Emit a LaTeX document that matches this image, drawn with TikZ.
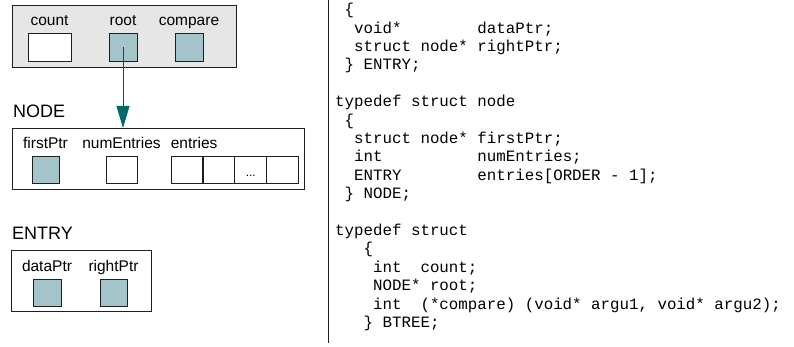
\documentclass[tikz,border=0pt]{standalone}
\usepackage{fontspec}
\setmainfont{Liberation Sans}
\newfontfamily\codefont{Liberation Mono}
\usepackage{tikz}
\usetikzlibrary{arrows.meta,positioning}
\definecolor{ink}{HTML}{1E1E1E}
\definecolor{panelgray}{HTML}{E6E6E6}
\definecolor{ptrteal}{HTML}{A3C4C8}
\definecolor{tipteal}{HTML}{006A6A}
\definecolor{wire}{HTML}{3A3A3A}
\tikzset{
  >=Latex,
  every node/.style={text=black},
  panel/.style={draw=ink,line width=0.9pt,fill=panelgray,anchor=north west,inner sep=0pt},
  frame/.style={panel,fill=white},
  cell/.style={draw=ink,line width=0.9pt,fill=white,minimum width=28pt,minimum height=27pt,inner sep=0pt},
  ptrcell/.style={cell,fill=ptrteal},
  field/.style={font=\fontsize{15.5}{18}\selectfont,inner sep=0pt,text depth=3.3pt},
  title/.style={font=\fontsize{18}{21}\selectfont,inner sep=0pt,text depth=0pt},
  dots/.style={font=\fontsize{12}{14}\selectfont,inner sep=0pt},
  code/.style={font=\codefont\fontsize{15.8}{18.4}\selectfont,align=left,anchor=north west,inner sep=0pt},
  ptrarrow/.style={-{Triangle[length=22pt,width=13pt,color=tipteal]},draw=wire,line width=0.8pt},
  divider/.style={draw=ink,line width=0.9pt}
}
\begin{document}
\begin{tikzpicture}[x=1pt,y=-1pt]
  \useasboundingbox (0,0) rectangle (794,347);

  % BTREE head
  \node[panel,minimum width=224pt,minimum height=62pt] (btree) at (12,5) {};
  \node[cell,minimum width=43pt,minimum height=28pt] (count) at (49.5,47) {};
  \node[ptrcell,minimum height=28pt] (root) at (123,47) {};
  \node[ptrcell,minimum height=28pt] (compare) at (189,47) {};
  \node[field,above=4pt of count] (countlbl) {count};
  \node[field,above=4pt of root] (rootlbl) {root};
  \node[field,above=4pt of compare] (comparelbl) {compare};

  % NODE
  \node[frame,minimum width=292pt,minimum height=61pt] (nodebox) at (12,128) {};
  \node[title,above=10pt of nodebox.north west,anchor=south west,xshift=1pt] (nodetitle) {NODE};
  \node[ptrcell,minimum width=27pt] (first) at (45.5,169.5) {};
  \node[cell,minimum width=31pt] (numentries) at (121.5,169.5) {};
  \foreach \i/\cx in {1/187,2/219,3/250.75,4/282.5}
    \node[cell,minimum width=31.75pt] (entry\i) at (\cx,169.5) {};
  \node[dots] (ellipsis) at ([yshift=-6.5pt]entry3.center) {...};
  \node[field,above=4pt of first] (firstlbl) {firstPtr};
  \node[field,above=4pt of numentries] (numlbl) {numEntries};
  \node[field,above=4pt of entry1.north west,anchor=south west] (entrieslbl) {entries};

  % ENTRY
  \node[frame,minimum width=140pt,minimum height=61pt] (entrybox) at (11,250) {};
  \node[title,above=10pt of entrybox.north west,anchor=south west,xshift=1pt] (entrytitle) {ENTRY};
  \node[ptrcell] (data) at (47,292.5) {};
  \node[ptrcell,minimum width=27pt] (right) at (113.5,292.5) {};
  \node[field,above=4pt of data] (datalbl) {dataPtr};
  \node[field,above=4pt of right] (rightlbl) {rightPtr};

  % root pointer
  \draw[ptrarrow] (root.center) -- (root.center |- nodebox.north);

  % declarations
  \coordinate (divtop) at (328,0);
  \coordinate (divbot) at (328,343);
  \draw[divider] (divtop) -- (divbot);
  \node[code] (decls) at (335,2.5) {\rule{0pt}{12pt}~\{\\
~~void*~~~~~~~~dataPtr;\\
~~struct~node*~rightPtr;\\
~\}~ENTRY;\\[18.4pt]
typedef~struct~node\\
~\{\\
~~struct~node*~firstPtr;\\
~~int~~~~~~~~~~numEntries;\\
~~ENTRY~~~~~~~~entries[ORDER~-~1];\\
~\}~NODE;\\[18.4pt]
typedef~struct\\
~~~\{\\
~~~~int~~count;\\
~~~~NODE*~root;\\
~~~~int~~(*compare)~(void*~argu1,~void*~argu2);\\
~~~\}~BTREE;};
\end{tikzpicture}
\end{document}
